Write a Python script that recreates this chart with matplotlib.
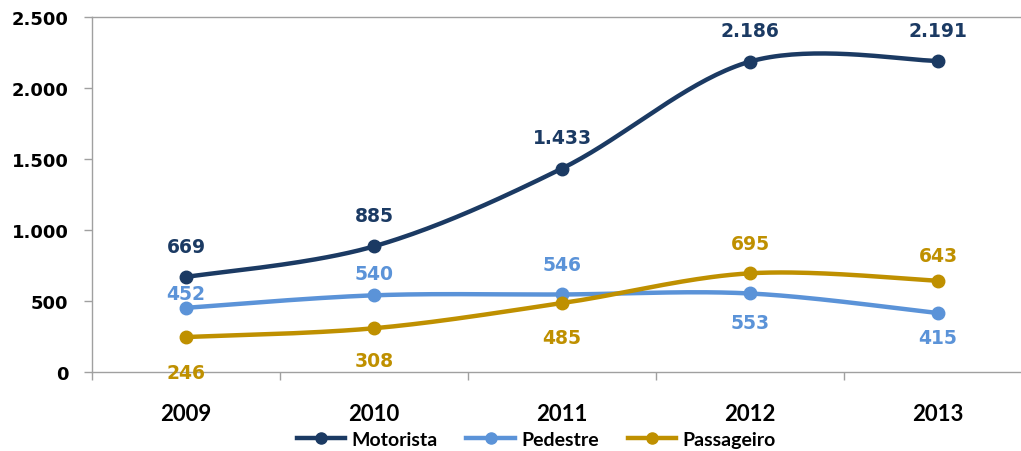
import matplotlib
matplotlib.use("Agg")
import matplotlib.pyplot as plt
import numpy as np
from matplotlib.ticker import FuncFormatter

# data
years = ["2009", "2010", "2011", "2012", "2013"]
motorista = [669, 885, 1433, 2186, 2191]
pedestre = [452, 540, 546, 553, 415]
passageiro = [246, 308, 485, 695, 643]

# label offsets in pixels (negative = above the point)
off_motorista = [-31, -31, -31, -31, -30]
off_pedestre = [-14, -22, -30, 29, 24]
off_passageiro = [35, 32, 34, -30, -25]

series = [
    ("Motorista", motorista, "#1B3A63", off_motorista),
    ("Pedestre", pedestre, "#5B93D8", off_pedestre),
    ("Passageiro", passageiro, "#BF9000", off_passageiro),
]


def smooth(x, y, n=40):
    # uniform catmull-rom through the points, like excel's smoothed line
    p = np.column_stack([x, y]).astype(float)
    p = np.vstack([p[0], p, p[-1]])
    out = []
    for i in range(1, len(p) - 2):
        p0, p1, p2, p3 = p[i - 1], p[i], p[i + 1], p[i + 2]
        c1 = p1 + (p2 - p0) / 6.0
        c2 = p2 - (p3 - p1) / 6.0
        t = np.linspace(0, 1, n)[:, None]
        seg = ((1 - t) ** 3 * p1 + 3 * (1 - t) ** 2 * t * c1
               + 3 * (1 - t) * t ** 2 * c2 + t ** 3 * p2)
        out.append(seg if i == 1 else seg[1:])
    out = np.vstack(out)
    return out[:, 0], out[:, 1]


fig = plt.figure(figsize=(10.21, 4.52), dpi=100)
ax = fig.add_axes([92 / 1021, 79 / 452, 940 / 1021, 355 / 452])

x = np.arange(len(years))
for name, vals, col, offs in series:
    sx, sy = smooth(x, vals)
    ax.plot(sx, sy, color=col, lw=3.2, solid_capstyle="round", zorder=2)
    ax.plot(x, vals, "o", color=col, ms=9, zorder=3)
    for xi, v, o in zip(x, vals, offs):
        ax.annotate("{:,}".format(v).replace(",", "."), (xi, v),
                    xytext=(0, -o * 0.72), textcoords="offset points",
                    ha="center", va="center", color=col,
                    fontsize=13.5, fontweight="bold", family="DejaVu Sans")

ax.set_xlim(-0.5, 4.5)
ax.set_ylim(0, 2500)
ax.set_yticks([0, 500, 1000, 1500, 2000, 2500])
ax.yaxis.set_major_formatter(FuncFormatter(lambda v, p: "{:,}".format(int(v)).replace(",", ".")))
ax.set_xticks(x)
ax.set_xticklabels(years)
ax.set_xticks(np.arange(-0.5, 5, 1), minor=True)
ax.tick_params(axis="x", which="major", length=0, pad=22)
ax.tick_params(axis="x", which="minor", length=6, color="#A0A0A0", width=1)
ax.tick_params(axis="y", length=6, color="#A0A0A0", width=1, pad=11)
for lab in ax.get_xticklabels():
    lab.set_family("Lato")
    lab.set_fontweight("bold")
    lab.set_fontsize(16)
for lab in ax.get_yticklabels():
    lab.set_family("DejaVu Sans")
    lab.set_fontweight("bold")
    lab.set_fontsize(13)

for s in ["left", "bottom", "top"]:
    ax.spines[s].set_color("#A0A0A0")
    ax.spines[s].set_linewidth(1)
ax.spines["right"].set_visible(False)

handles = [plt.Line2D([], [], color=c, lw=3.2, marker="o", ms=8) for _, _, c, _ in series]
fig.legend(handles, [n for n, _, _, _ in series], loc="center",
           bbox_to_anchor=(0.525, 0.026), ncol=3, frameon=False,
           prop={"family": "Lato", "weight": "bold", "size": 14},
           handlelength=2.5, handletextpad=0.3, columnspacing=1.5)

fig.savefig("out.png", dpi=100)
